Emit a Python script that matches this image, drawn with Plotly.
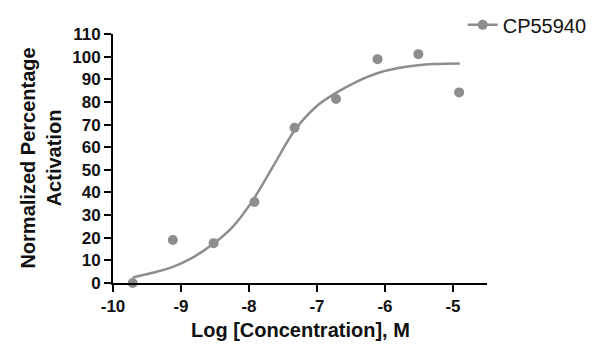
import plotly.graph_objects as go

# Measured data points (log molar concentration vs normalized % activation)
log_conc = [-9.71, -9.12, -8.52, -7.92, -7.33, -6.72, -6.11, -5.51, -4.91]
activation = [0.0, 19.0, 17.6, 35.8, 68.6, 81.3, 98.9, 101.1, 84.2]

# Fitted curve
curve_x = [-9.71, -9.42, -9.12, -8.83, -8.52, -8.24, -7.95, -7.65, -7.32,
           -7.01, -6.72, -6.42, -6.08, -5.69, -5.29, -4.90]
curve_y = [2.4, 4.5, 7.1, 11.2, 17.4, 24.8, 36.3, 51.3, 67.8,
           78.0, 84.0, 88.9, 93.0, 95.5, 96.7, 97.0]

series_name = "CP55940"
x_ticks = [-10, -9, -8, -7, -6, -5]
y_ticks = list(range(0, 111, 10))

gray = "#8e8e8e"
font_family = "Liberation Sans, Arial, sans-serif"

fig = go.Figure()
fig.add_trace(go.Scatter(x=curve_x, y=curve_y, mode="lines",
                         line=dict(color=gray, width=2.5, shape="spline", smoothing=1.0),
                         showlegend=False, hoverinfo="skip"))
fig.add_trace(go.Scatter(x=log_conc, y=activation, mode="markers",
                         marker=dict(color=gray, size=10), cliponaxis=False,
                         showlegend=False))
# legend entry (line + marker)
fig.add_trace(go.Scatter(x=[None], y=[None], mode="lines+markers", name=series_name,
                         line=dict(color=gray, width=2.5), marker=dict(color=gray, size=10)))

fig.update_layout(
    width=600, height=360,
    margin=dict(l=113, r=113, t=34, b=77, autoexpand=False),
    paper_bgcolor="white", plot_bgcolor="white",
    font=dict(family=font_family, color="black"),
    legend=dict(x=0.935, xanchor="left", y=1.115, yanchor="top",
                font=dict(size=20, family=font_family, color="#111111"),
                bgcolor="rgba(0,0,0,0)"),
    annotations=[
        dict(text="Log [Concentration], M", xref="paper", yref="paper",
             x=0.5, y=-0.19, xanchor="center", yanchor="middle", showarrow=False,
             font=dict(size=20, family=font_family, weight="bold", color="#111111")),
        dict(text="Normalized Percentage<br>Activation", xref="paper", yref="paper",
             x=-0.195, y=0.5, xanchor="center", yanchor="middle", showarrow=False,
             textangle=-90,
             font=dict(size=20, family=font_family, weight="bold", color="#111111")),
    ],
)
fig.update_xaxes(range=[-10, -4.5], tickvals=x_ticks, ticktext=[str(v) for v in x_ticks],
                 showgrid=False, zeroline=False, showline=True, linecolor="black", linewidth=2,
                 ticks="outside", ticklen=7, tickwidth=2, tickcolor="black",
                 tickfont=dict(size=17, family=font_family, weight="bold", color="#111111"))
fig.update_yaxes(range=[0, 110], tickvals=y_ticks,
                 showgrid=False, zeroline=False, showline=True, linecolor="black", linewidth=2,
                 ticks="outside", ticklen=7, tickwidth=2, tickcolor="black",
                 tickfont=dict(size=17, family=font_family, weight="bold", color="#111111"))

fig.write_html("out.html", config={"displayModeBar": False},
               post_script="document.body.style.margin='0';document.body.style.overflow='hidden';")
